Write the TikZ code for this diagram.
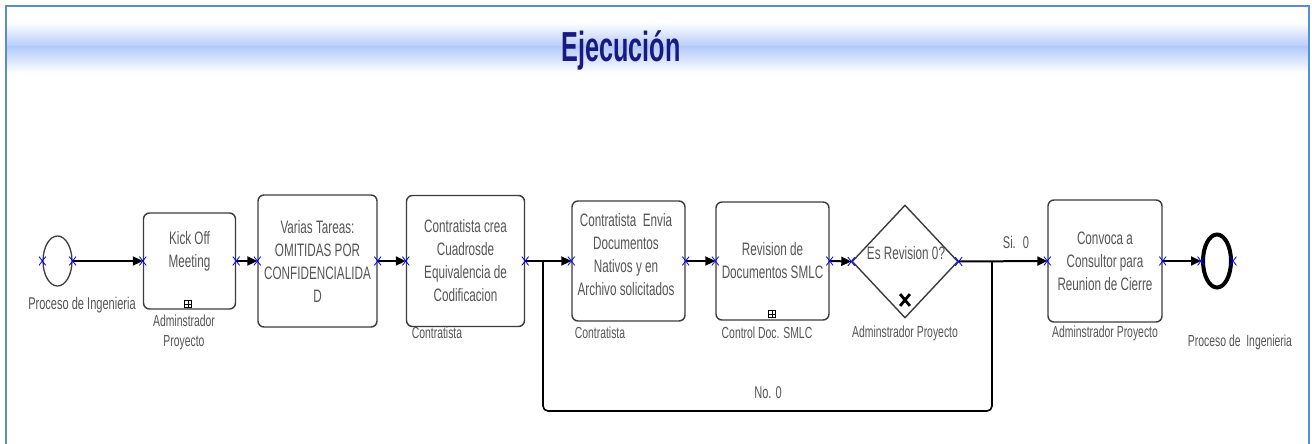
\documentclass[tikz,border=0pt]{standalone}
\usepackage{fontspec}
\setmainfont{Liberation Sans}
\newfontfamily\cf[FakeStretch=0.65]{Liberation Sans}
\newfontfamily\tf[FakeStretch=0.6]{Liberation Sans}
\usetikzlibrary{arrows.meta,shapes.geometric,shapes.misc}
\definecolor{txt}{RGB}{85,85,85}
\definecolor{framec}{RGB}{90,140,210}
\definecolor{band}{RGB}{180,203,250}
\definecolor{titlec}{RGB}{25,25,130}
\definecolor{bd}{RGB}{60,60,60}
\begin{document}
\begin{tikzpicture}[x=1pt,y=-1pt,
 task/.style={draw=bd,line width=1.4pt,rounded corners=6pt,inner sep=0pt},
 tasktext/.style={text=txt,font=\cf\fontsize{18}{23}\selectfont,align=center,inner sep=0pt},
 lbl/.style={text=txt,font=\cf\fontsize{16}{20}\selectfont,align=center,inner sep=0pt},
 flow/.style={draw=black,line width=2pt,-{Triangle[length=10pt,width=9pt]}},
 conn/.style={draw=black,line width=1.6pt},
 xm/.style={cross out,draw=blue,line width=0.8pt,minimum width=6pt,minimum height=8pt,inner sep=0pt},
 sub/.style={draw=black,line width=0.7pt,minimum size=7pt,inner sep=0pt,fill=white,
   path picture={\draw[line width=0.6pt] (path picture bounding box.north) -- (path picture bounding box.south)
   (path picture bounding box.west) -- (path picture bounding box.east);}},
]
\useasboundingbox (0,0) rectangle (1312,444);
\fill[white] (0,0) rectangle (1312,444);
% header band
\shade[top color=white,bottom color=band] (7,22) rectangle (1308,47.5);
\shade[top color=band,bottom color=white] (7,47) rectangle (1308,73);
\draw[framec,line width=2.5pt] (6,444) -- (6,6) -- (1309,6) -- (1309,444);
\node[font=\tf\bfseries\fontsize{42}{46}\selectfont,text=titlec,anchor=base] (title) at (621,62) {Ejecución};

% events
\node[ellipse,draw=bd,line width=1.3pt,minimum width=29pt,minimum height=50pt,inner sep=0pt] (start) at (57.5,261) {};
\node[ellipse,draw=black,line width=4pt,minimum width=28pt,minimum height=53pt,inner sep=0pt] (end) at (1217,261) {};

% tasks
\node[task,minimum width=92pt,minimum height=96pt] (kick) at (189.5,261) {};
\node[tasktext] (kickt) at (189.5,251.5) {Kick Off\\Meeting};
\node[sub] (kicks) at (188,304) {};

\node[task,minimum width=119pt,minimum height=132pt] (var) at (317.5,261) {};
\node[tasktext] (vart) at (317.5,261) {Varias Tareas:\\OMITIDAS POR\\CONFIDENCIALIDA\\D};

\node[task,minimum width=118pt,minimum height=131pt] (crea) at (465.5,261) {};
\node[tasktext] (creat) at (465.5,261) {Contratista crea\\Cuadrosde\\Equivalencia de\\Codificacion};

\node[task,minimum width=113pt,minimum height=120pt] (env) at (628.5,261) {};
\node[tasktext] (envt) at (626,255) {Contratista~ Envia\\Documentos\\Nativos y en\\Archivo solicitados};

\node[task,minimum width=113pt,minimum height=118pt] (rev) at (772.5,261) {};
\node[tasktext] (revt) at (772.5,261) {Revision de\\Documentos SMLC};
\node[sub] (revs) at (772,314) {};

\node[diamond,draw=bd,line width=1.4pt,minimum width=106pt,minimum height=113pt,inner sep=0pt] (dia) at (905,261.5) {};
\node[tasktext] (diat) at (906,253) {Es Revision 0?};
\node[cross out,draw=black,line width=2.8pt,minimum width=7pt,minimum height=9pt,inner sep=0pt] (diax) at (905,300) {};

\node[task,minimum width=114pt,minimum height=122pt] (conv) at (1105,261) {};
\node[tasktext] (convt) at (1105,261) {Convoca a\\Consultor para\\Reunion de Cierre};

% labels
\node[lbl,font=\cf\fontsize{17}{20}\selectfont] (l1) at (82,305) {Proceso de Ingenieria};
\node[lbl] (l2) at (184,332) {Adminstrador\\Proyecto};
\node[lbl] (l3) at (437,333) {Contratista};
\node[lbl] (l4) at (600,333) {Contratista};
\node[lbl] (l5) at (767,333) {Control Doc. SMLC};
\node[lbl] (l6) at (905,333) {Adminstrador Proyecto};
\node[lbl] (l7) at (1105,333) {Adminstrador Proyecto};
\node[lbl] (l8) at (1240,342) {Proceso de~ Ingenieria};
\node[lbl,font=\cf\fontsize{17}{20}\selectfont] (si) at (1016,242) {Si.~ 0};
\node[lbl,font=\cf\fontsize{17}{20}\selectfont] (no) at (768,393) {No. 0};

% connectors
\draw[flow] (start.east) -- (kick.west);
\draw[flow] (kick.east) -- (var.west);
\draw[flow] (var.east) -- (crea.west);
\draw[flow] (crea.east) -- (env.west);
\draw[flow] (env.east) -- (rev.west);
\draw[flow] (rev.east) -- (dia.west);
\draw[flow] (dia.east) -- (conv.west);
\draw[flow] (conv.east) -- (end.west);
\coordinate (nr) at (992,261.5);
\coordinate (br) at (992,411);
\coordinate (bl) at (543,411);
\coordinate (nl) at (543,261);
\draw[conn,rounded corners=5pt] (nr) -- (br) -- (bl) -- (nl);

% connection markers
\foreach \n in {start,kick,var,crea,env,rev,dia,conv,end}{
  \node[xm] at (\n.west) {};
  \node[xm] at (\n.east) {};
}
\end{tikzpicture}
\end{document}
